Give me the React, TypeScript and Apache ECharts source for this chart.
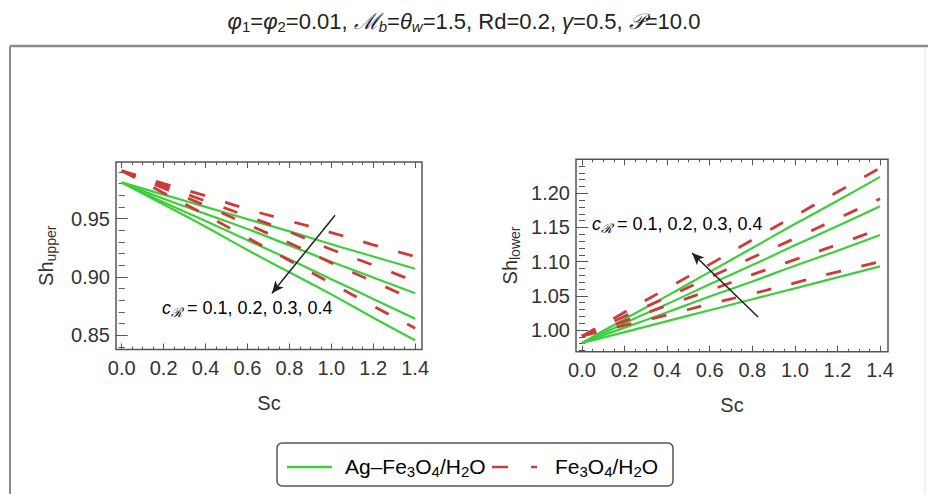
import React, { useEffect, useRef } from "react";
import * as echarts from "echarts";

// Sc values (x)
const scValues = [0, 0.2, 0.4, 0.6, 0.8, 1.0, 1.2, 1.4];

// Sh_upper, Ag–Fe3O4/H2O (solid green), cR = 0.1 .. 0.4
const shUpperHybrid1 = [0.981, 0.9705, 0.96, 0.9495, 0.939, 0.928, 0.9175, 0.907];
const shUpperHybrid2 = [0.981, 0.967, 0.954, 0.941, 0.927, 0.913, 0.8995, 0.886];
const shUpperHybrid3 = [0.981, 0.964, 0.948, 0.9315, 0.915, 0.898, 0.881, 0.864];
const shUpperHybrid4 = [0.981, 0.962, 0.943, 0.923, 0.904, 0.885, 0.865, 0.8456];
// Sh_upper, Fe3O4/H2O (dashed red)
const shUpperMono1 = [0.991, 0.98, 0.9695, 0.958, 0.948, 0.938, 0.9275, 0.9175];
const shUpperMono2 = [0.991, 0.978, 0.965, 0.952, 0.9385, 0.9235, 0.91, 0.896];
const shUpperMono3 = [0.991, 0.976, 0.961, 0.945, 0.929, 0.912, 0.896, 0.88];
const shUpperMono4 = [0.991, 0.972, 0.953, 0.9335, 0.914, 0.8945, 0.875, 0.856];

// Sh_lower, Ag–Fe3O4/H2O
const shLowerHybrid1 = [0.981, 1.016, 1.05, 1.085, 1.12, 1.155, 1.189, 1.224];
const shLowerHybrid2 = [0.981, 1.01, 1.038, 1.067, 1.095, 1.124, 1.152, 1.181];
const shLowerHybrid3 = [0.981, 1.0035, 1.026, 1.049, 1.071, 1.094, 1.116, 1.139];
const shLowerHybrid4 = [0.981, 0.997, 1.013, 1.029, 1.045, 1.061, 1.077, 1.093];
// Sh_lower, Fe3O4/H2O
const shLowerMono1 = [0.991, 1.026, 1.061, 1.096, 1.132, 1.167, 1.202, 1.237];
const shLowerMono2 = [0.991, 1.02, 1.048, 1.077, 1.106, 1.134, 1.163, 1.192];
const shLowerMono3 = [0.991, 1.013, 1.036, 1.058, 1.081, 1.103, 1.125, 1.148];
const shLowerMono4 = [0.991, 1.007, 1.022, 1.038, 1.053, 1.069, 1.085, 1.1];

// tick labels
const xTicks = [0, 0.2, 0.4, 0.6, 0.8, 1.0, 1.2, 1.4];
const upperYTicks = [0.85, 0.9, 0.95];
const lowerYTicks = [1.0, 1.05, 1.1, 1.15, 1.2];

const FONT = "Liberation Sans, Arial, sans-serif";
const GREEN = "#3ccf3c";
const RED = "#cc3a3a";
const TXT = "#333333";

function range(a: number, b: number, step: number) {
  const out: number[] = [];
  for (let v = a; v <= b + 1e-9; v += step) out.push(Math.round(v * 1000) / 1000);
  return out;
}
const xMinor = range(0, 1.4, 0.05);
const upperYMinor = range(0.84, 0.99, 0.01);
const lowerYMinor = range(0.97, 1.24, 0.01);

const subRich = {
  m: { fontSize: 20, fontFamily: FONT, color: TXT, lineHeight: 24 },
  s: { fontSize: 14, fontFamily: FONT, color: TXT, lineHeight: 9, verticalAlign: "bottom" as const },
};

function makeXAxes(grid: number, min: number, max: number) {
  const base = {
    type: "value" as const,
    gridIndex: grid,
    min,
    max,
    axisLine: { show: false },
    splitLine: { show: false },
  };
  const tick = (len: number, vals: number[]) => ({
    show: true,
    inside: true,
    length: len,
    customValues: vals,
    lineStyle: { color: "#555", width: 1 },
  });
  return [
    {
      ...base,
      position: "bottom",
      name: "Sc",
      nameLocation: "middle",
      nameGap: 43,
      nameTextStyle: { fontSize: 20, fontFamily: FONT, color: TXT },
      axisTick: tick(6, xTicks),
      axisLabel: {
        show: true,
        customValues: xTicks,
        formatter: (v: number) => v.toFixed(1),
        fontSize: 20,
        fontFamily: FONT,
        color: TXT,
        margin: 8,
      },
    },
    { ...base, position: "bottom", axisTick: tick(3, xMinor), axisLabel: { show: false } },
    { ...base, position: "top", axisTick: tick(6, xTicks), axisLabel: { show: false } },
    { ...base, position: "top", axisTick: tick(3, xMinor), axisLabel: { show: false } },
  ];
}

function makeYAxes(grid: number, min: number, max: number, major: number[], minor: number[], name: string, gap: number) {
  const base = {
    type: "value" as const,
    gridIndex: grid,
    min,
    max,
    axisLine: { show: false },
    splitLine: { show: false },
  };
  const tick = (len: number, vals: number[]) => ({
    show: true,
    inside: true,
    length: len,
    customValues: vals,
    lineStyle: { color: "#555", width: 1 },
  });
  return [
    {
      ...base,
      position: "left",
      name,
      nameLocation: "middle",
      nameGap: gap,
      nameTextStyle: { rich: subRich },
      axisTick: tick(6, major),
      axisLabel: {
        show: true,
        customValues: major,
        formatter: (v: number) => v.toFixed(2),
        fontSize: 20,
        fontFamily: FONT,
        color: TXT,
        margin: 6,
      },
    },
    { ...base, position: "left", axisTick: tick(3, minor), axisLabel: { show: false } },
    { ...base, position: "right", axisTick: tick(6, major), axisLabel: { show: false } },
    { ...base, position: "right", axisTick: tick(3, minor), axisLabel: { show: false } },
  ];
}

function lineSeries(data: number[], axisBase: number, dashed: boolean, extra: any = {}) {
  return {
    type: "line",
    xAxisIndex: axisBase,
    yAxisIndex: axisBase,
    data: scValues.map((x, i) => [x, data[i]]),
    showSymbol: false,
    symbol: "none",
    smooth: true,
    silent: true,
    z: dashed ? 3 : 2,
    lineStyle: dashed
      ? { color: RED, width: 2.8, type: [15, 21] }
      : { color: GREEN, width: 2.2 },
    itemStyle: { color: dashed ? RED : GREEN },
    ...extra,
  };
}

function arrowMark(from: number[], to: number[]) {
  return {
    markLine: {
      silent: true,
      symbol: ["none", "arrow"],
      symbolSize: [8, 12],
      label: { show: false },
      lineStyle: { color: "#222", width: 1.5, type: "solid" },
      data: [[{ coord: from }, { coord: to }]],
    },
  };
}

const tBase = { fontFamily: FONT, color: "#222", fontWeight: "normal" as const };
const titleRich = {
  n: { ...tBase, fontSize: 22, lineHeight: 26 },
  i: { ...tBase, fontSize: 22, fontStyle: "italic" as const, lineHeight: 26 },
  s: { ...tBase, fontSize: 15, lineHeight: 10, verticalAlign: "bottom" as const },
  si: { ...tBase, fontSize: 15, fontStyle: "italic" as const, lineHeight: 10, verticalAlign: "bottom" as const },
};

const annRich = {
  i: { fontSize: 18, fontFamily: FONT, color: TXT, fontStyle: "italic" as const, lineHeight: 22 },
  s: { fontSize: 13, fontFamily: FONT, color: TXT, fontStyle: "italic" as const, lineHeight: 8, verticalAlign: "bottom" as const },
  n: { fontSize: 18, fontFamily: FONT, color: TXT, lineHeight: 22 },
};
const annText = "{i|c}{s|ℛ}{n| = " + ["0.1", "0.2", "0.3", "0.4"].join(", ") + "}";

const legRich = {
  n: { fontSize: 21, fontFamily: FONT, color: TXT, lineHeight: 26 },
  s: { fontSize: 15, fontFamily: FONT, color: TXT, lineHeight: 10, verticalAlign: "bottom" as const },
};

export default function App() {
  const ref = useRef<HTMLDivElement>(null);
  useEffect(() => {
    if (!ref.current) return;
    const chart = echarts.init(ref.current, undefined, { renderer: "svg" });
    const xA = [...makeXAxes(0, -0.0272, 1.4327), ...makeXAxes(1, -0.0282, 1.4373)];
    const yA = [
      ...makeYAxes(0, 0.8377, 0.9985, upperYTicks, upperYMinor, "{m|Sh}{s|upper}", 58),
      ...makeYAxes(1, 0.9683, 1.2497, lowerYTicks, lowerYMinor, "{m|Sh}{s|lower}", 54),
    ];
    const option: any = {
      animation: false,
      backgroundColor: "#ffffff",
      title: {
        text:
          "{i|φ}{s|1}{n|=}{i|φ}{s|2}{n|=0.01, }{i|ℳ}{si|b}{n|=}{i|θ}{si|w}{n|=1.5, Rd=0.2, }{i|γ}{n|=0.5, }{i|𝒫}{n|=10.0}",
        left: "center",
        top: 3,
        textStyle: { fontWeight: "normal", rich: titleRich },
      },
      grid: [
        { left: 116, top: 162, width: 306, height: 187.5, show: true, borderColor: "#555", borderWidth: 1.5, backgroundColor: "transparent" },
        { left: 576, top: 159.3, width: 312, height: 192.4, show: true, borderColor: "#555", borderWidth: 1.5, backgroundColor: "transparent" },
      ],
      xAxis: xA,
      yAxis: yA,
      series: [
        lineSeries(shUpperHybrid1, 0, false, arrowMark([1.018, 0.9528], [0.717, 0.886])),
        lineSeries(shUpperHybrid2, 0, false),
        lineSeries(shUpperHybrid3, 0, false),
        lineSeries(shUpperHybrid4, 0, false),
        lineSeries(shUpperMono1, 0, true),
        lineSeries(shUpperMono2, 0, true),
        lineSeries(shUpperMono3, 0, true),
        lineSeries(shUpperMono4, 0, true),
        lineSeries(shLowerHybrid1, 4, false, arrowMark([0.827, 1.019], [0.517, 1.1127])),
        lineSeries(shLowerHybrid2, 4, false),
        lineSeries(shLowerHybrid3, 4, false),
        lineSeries(shLowerHybrid4, 4, false),
        lineSeries(shLowerMono1, 4, true),
        lineSeries(shLowerMono2, 4, true),
        lineSeries(shLowerMono3, 4, true),
        lineSeries(shLowerMono4, 4, true),
      ],
      graphic: [
        // outer frame
        { type: "line", shape: { x1: 10, y1: 46, x2: 928, y2: 46 }, style: { stroke: "#8a8a8a", lineWidth: 2.5 } },
        { type: "line", shape: { x1: 10, y1: 46, x2: 10, y2: 494 }, style: { stroke: "#8a8a8a", lineWidth: 2 } },
        { type: "line", shape: { x1: 925, y1: 47, x2: 925, y2: 494 }, style: { stroke: "#e2e2e2", lineWidth: 1 } },
        // annotations
        { type: "text", x: 162, y: 308, style: { text: annText, rich: annRich, verticalAlign: "middle" } },
        { type: "text", x: 592, y: 224, style: { text: annText, rich: annRich, verticalAlign: "middle" } },
        // legend
        { type: "rect", shape: { x: 277, y: 443, width: 396, height: 43, r: 5 }, style: { fill: "#fff", stroke: "#555", lineWidth: 1.5 } },
        { type: "line", shape: { x1: 287, y1: 467, x2: 332, y2: 467 }, style: { stroke: GREEN, lineWidth: 2.5 } },
        { type: "text", x: 345, y: 466, style: { text: "{n|Ag–Fe}{s|3}{n|O}{s|4}{n|/H}{s|2}{n|O}", rich: legRich, verticalAlign: "middle" } },
        { type: "line", shape: { x1: 492, y1: 467, x2: 508, y2: 467 }, style: { stroke: RED, lineWidth: 2.5 } },
        { type: "line", shape: { x1: 531, y1: 467, x2: 537, y2: 467 }, style: { stroke: RED, lineWidth: 2.5 } },
        { type: "text", x: 555, y: 466, style: { text: "{n|Fe}{s|3}{n|O}{s|4}{n|/H}{s|2}{n|O}", rich: legRich, verticalAlign: "middle" } },
      ],
    };
    chart.setOption(option);
    return () => chart.dispose();
  }, []);
  return (
    <div
      ref={ref}
      style={{ position: "fixed", left: 0, top: 0, width: 928, height: 494, background: "#fff" }}
    />
  );
}
